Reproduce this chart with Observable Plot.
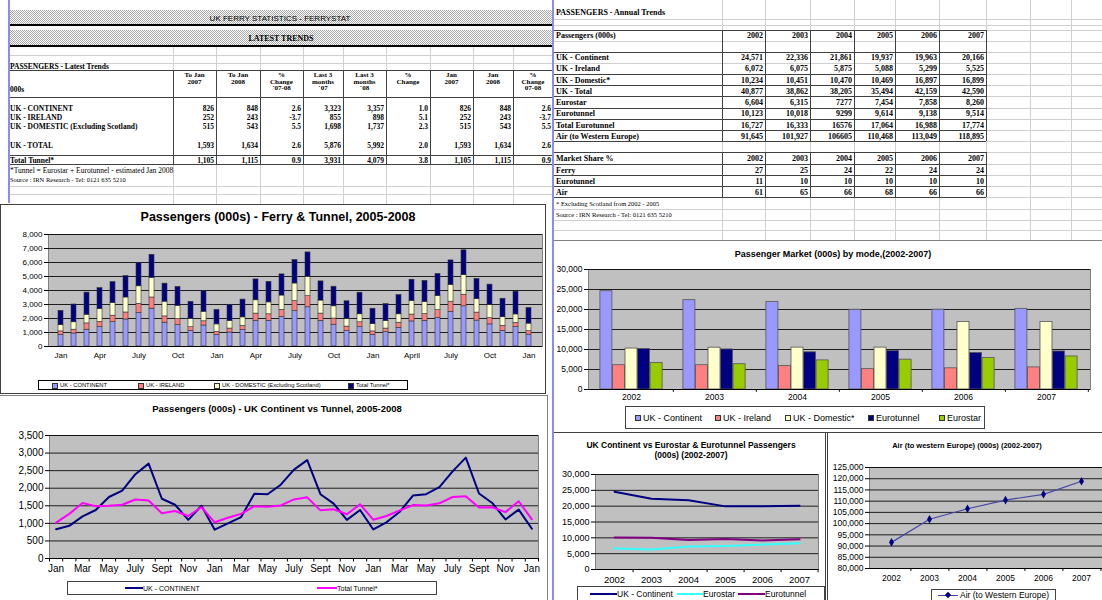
<!DOCTYPE html>
<html><head><meta charset="utf-8">
<script src="https://cdn.jsdelivr.net/npm/d3@7"></script>
<script src="https://cdn.jsdelivr.net/npm/@observablehq/plot@0.6"></script>
<style>
body{margin:0;background:#fff;}
#root{position:relative;width:1102px;height:600px;overflow:hidden;background:#fff;}
.t{position:absolute;white-space:nowrap;line-height:1;}
.ch svg{display:block;max-width:none !important;overflow:visible;}
</style></head><body><div id="root"></div>
<script>
// ---------------- DATA ----------------
// Monthly, Jan 2005 .. Jan 2008 (000s)
const ukContinentM = [830,930,1200,1380,1750,1930,2400,2700,1700,1530,1100,1500, 820,1000,1180,1840,1830,2100,2530,2800,1830,1560,1100,1380, 826,1030,1330,1790,1830,2030,2480,2870,1850,1580,1110,1390, 848];
const ukIrelandM   = [250,270,450,380,450,500,650,800,450,430,280,300, 230,280,290,510,470,520,720,800,520,440,320,350, 252,250,370,490,490,570,720,830,570,450,370,300, 243];
const ukDomesticM  = [440,530,620,920,900,1070,1250,1400,1050,940,600,680, 530,540,610,950,850,1020,1250,1380,930,870,550,570, 515,540,600,970,860,1010,1200,1400,960,930,610,600, 543];
const totalTunnelM = [1020,1270,1580,1490,1500,1530,1680,1650,1290,1350,1210,1460, 1030,1160,1270,1490,1470,1510,1680,1740,1370,1400,1260,1540, 1105,1210,1370,1520,1510,1570,1750,1770,1450,1460,1320,1630, 1115];
const barTickLabels  = ["Jan","Apr","July","Oct","Jan","Apr","July","Oct","Jan","April","July","Oct","Jan"];
const lineTickLabels = ["Jan","Mar","May","July","Sept","Nov","Jan","Mar","May","July","Sept","Nov","Jan","Mar","May","July","Sept","Nov","Jan"];

// Latest trends table
const latestHeaders = [["To Jan","2007"],["To Jan","2008"],["%","Change","`07-08"],["Last 3","months","`07"],["Last 3","months","`08"],["%","Change"],["Jan","2007"],["Jan","2008"],["%","Change","07-08"]];
const latestRowLabels = ["UK - CONTINENT","UK - IRELAND","UK - DOMESTIC (Excluding Scotland)","UK - TOTAL","Total Tunnel*"];
const latestRows = [
  ["826","848","2.6","3,323","3,357","1.0","826","848","2.6"],
  ["252","243","-3.7","855","898","5.1","252","243","-3.7"],
  ["515","543","5.5","1,698","1,737","2.3","515","543","5.5"],
  ["1,593","1,634","2.6","5,876","5,992","2.0","1,593","1,634","2.6"],
  ["1,105","1,115","0.9","3,931","4,079","3.8","1,105","1,115","0.9"]
];

// Annual trends (000s)
const years = [2002,2003,2004,2005,2006,2007];
const ukContinentA = [24571,22336,21861,19937,19963,20166];
const ukIrelandA   = [6072,6075,5875,5088,5299,5525];
const ukDomesticA  = [10234,10451,10470,10469,16897,16899];
const ukTotalA     = [40877,38862,38205,35494,42159,42590];
const eurostarA    = [6604,6315,7277,7454,7858,8260];
const eurotunnelA  = [10123,10018,9299,9614,9138,9514];
const totalEurotunnelA = [16727,16333,16576,17064,16988,17774];
const airA         = [91645,101927,106605,110468,113049,118895];
const shareFerry = [27,25,24,22,24,24];
const shareEurotunnel = [11,10,10,10,10,10];
const shareAir = [61,65,66,68,66,66];

// ---------------- HELPERS ----------------
const root = document.getElementById('root');
const SANS = '"Liberation Sans", Arial, sans-serif';
const SERIF = '"Liberation Serif", "Times New Roman", serif';
function el(x,y,w,h,css){const d=document.createElement('div');d.style.position='absolute';d.style.left=x+'px';d.style.top=y+'px';d.style.width=w+'px';d.style.height=h+'px';Object.assign(d.style,css||{});root.appendChild(d);return d;}
function hl(x1,x2,y,c,w){return el(x1,y,x2-x1,w||1,{background:c});}
function vl(x,y1,y2,c,w){return el(x,y1,w||1,y2-y1,{background:c});}
function txt(s,x,y,o){o=o||{};const d=document.createElement('div');d.className='t';d.textContent=s;
  d.style.font=`${o.bold===false?'normal':'bold'} ${o.size||7.5}px ${o.family||SERIF}`;
  d.style.left=x+'px';d.style.top=y+'px';
  const tx=o.align==='right'?'-100%':o.align==='center'?'-50%':'0';
  d.style.transform=`translate(${tx},-50%)`; if(o.color)d.style.color=o.color; root.appendChild(d);return d;}
const fmt = d3.format(",");
const GRID='#d0d0d0', DARK='#404040';

// ---------------- LEFT TABLE ----------------
const lc=[8,173,216,260,303,343,386,430,473,513,553];
hl(8,552,55,GRID);hl(8,552,63,GRID);hl(8,552,186,GRID);hl(8,552,194,GRID);
lc.slice(1,-1).forEach(x=>vl(x,46,204,GRID));
const dither={background:'repeating-conic-gradient(#a8a8a8 0 25%, #ffffff 0 50%) 0 0/2px 2px'};
el(9,10,543,14,dither); hl(9,552,24,'#000',1.5);
el(9,30,543,15,dither); hl(9,552,45,'#000',2);
txt("UK FERRY STATISTICS - FERRYSTAT",280,17.5,{align:'center',bold:false,family:SANS,size:8});
txt("LATEST TRENDS",281,38,{align:'center',size:8});
[70,97,155,164].forEach(y=>hl(9,552,y,DARK));
lc.slice(1,-1).forEach(x=>vl(x,70,165,DARK));
txt("PASSENGERS - Latest Trends",10,66,{});
latestHeaders.forEach((h,j)=>{const cx=(lc[j+1]+lc[j+2])/2; h.forEach((s,k)=>txt(s,cx,75+k*6.6,{align:'center',size:7}));});
txt("000s",10,89,{});
const rowY=[107.5,116.5,125.5,144.5,159.5];
latestRowLabels.forEach((s,i)=>{txt(s,10,rowY[i],{}); latestRows[i].forEach((v,j)=>txt(v,lc[j+2]-2,rowY[i],{align:'right'}));});
txt("*Tunnel = Eurostar + Eurotunnel  - estimated Jan 2008",10,169.5,{bold:false,size:7.5});
txt("Source : IRN Research - Tel: 0121 635 5210",10,178.5,{bold:false,size:6.5});
vl(8,0,203,'#8c8cf0',2);

// ---------------- RIGHT TABLE ----------------
const rc=[553,722,765,810,854,895,939,986];
const rBounds=[19,25,29.5,41,51.5,62.5,73.5,85,96,107.5,118.5,130,141,152,163.5,175,186,197,208.5,219.5,230];
rBounds.forEach(y=>hl(553,1102,y,GRID));
[722,765,810,854,895,939,986,1030,1071].forEach(x=>vl(x,0,240,GRID));
[29.5,51.5,73.5,85,96,107.5,118.5,130,141,152,163.5,175,186,197].forEach(y=>hl(553,986,y,DARK));
rc.slice(1).forEach(x=>{vl(x,29.5,141,DARK);vl(x,152,197,DARK);});
txt("PASSENGERS - Annual Trends",556,12,{size:8});
txt("Passengers (000s)",556,35,{size:8});
years.forEach((y,j)=>{txt(String(y),rc[j+2]-2,35,{align:'right',size:8}); txt(String(y),rc[j+2]-2,158,{align:'right',size:8});});
const annualRows=[["UK - Continent",ukContinentA,57],["UK - Ireland",ukIrelandA,68],["UK - Domestic*",ukDomesticA,79.5],["UK - Total",ukTotalA,90.5],["Eurostar",eurostarA,101.5],["Eurotunnel",eurotunnelA,113],["Total Eurotunnel",totalEurotunnelA,124.5],["Air (to Western Europe)",airA,136]];
annualRows.forEach(([lab,vals,y],i)=>{txt(lab,556,y,{size:8}); vals.forEach((v,j)=>txt((i>=4&&j===2)?String(v):fmt(v),rc[j+2]-2,y,{align:'right',size:8}));});
txt("Market Share %",556,158,{size:8});
[["Ferry",shareFerry,169.5],["Eurotunnel",shareEurotunnel,180.5],["Air",shareAir,191.5]].forEach(([lab,vals,y])=>{txt(lab,556,y,{size:8}); vals.forEach((v,j)=>txt(String(v),rc[j+2]-2,y,{align:'right',size:8}));});
txt("* Excluding Scotland from 2002 - 2005",556,203,{bold:false,size:6.5});
txt("Source : IRN Research - Tel: 0121 635 5210",556,214,{bold:false,size:6.5});

// ---------------- CHART BOXES ----------------
el(0,204,546,190,{background:'#fff',border:'1px solid #404040',boxSizing:'border-box'});
el(0,395,548,210,{background:'#fff',borderRight:'1px solid #808080',borderTop:'1px solid #808080',boxSizing:'border-box'});
el(553,240,549,193,{background:'#fff',borderTop:'1px solid #808080',borderBottom:'1px solid #404040',boxSizing:'border-box'});
el(553,433,273,170,{background:'#fff',borderRight:'1px solid #404040',boxSizing:'border-box'});
el(827,433,275,170,{background:'#fff',borderLeft:'1px solid #404040',boxSizing:'border-box'});
vl(552,0,600,'#8c8cf0',2);

function place(svg,x,y,w,h){const d=document.createElement('div');d.className='ch';d.style.position='absolute';d.style.left=x+'px';d.style.top=y+'px';d.style.width=w+'px';d.style.height=h+'px';d.appendChild(svg);root.appendChild(d);}
const baseStyle=(fs)=>({background:'transparent',fontFamily:SANS,fontSize:fs+'px',color:'#000',overflow:'visible'});
const PLOTBG={fill:'#c0c0c0',stroke:'#808080'};

// ---------------- CHART 1: stacked bars ----------------
const stackSeries=["UK - CONTINENT","UK - IRELAND","UK - DOMESTIC (Excluding Scotland)","Total Tunnel*"];
const stackColors=["#9999ff","#ff8080","#ffffcc","#000080"];
const stackArrays=[ukContinentM,ukIrelandM,ukDomesticM,totalTunnelM];
const idx=d3.range(ukContinentM.length);
const stackData=[]; idx.forEach(i=>stackArrays.forEach((a,k)=>stackData.push({i,s:stackSeries[k],v:a[i]})));
const y1Ticks=d3.range(0,8001,1000);
const c1=Plot.plot({width:550,height:145,marginLeft:48,marginRight:8,marginTop:9,marginBottom:24,style:baseStyle(8),
  x:{type:'band',domain:idx,paddingInner:0.6,paddingOuter:0.3,label:null},
  y:{domain:[0,8000],label:null},
  color:{domain:stackSeries,range:stackColors},
  marks:[Plot.frame(PLOTBG),
    Plot.gridY(y1Ticks,{stroke:'#000',strokeOpacity:0.85}),
    Plot.barY(stackData,{x:'i',y:'v',fill:'s',stroke:'#333',strokeWidth:0.6}),
    Plot.axisY({ticks:y1Ticks,tickFormat:fmt,tickSize:4,tickPadding:2,fontSize:8}),
    Plot.axisX({ticks:idx.filter(i=>i%3===0),tickFormat:i=>barTickLabels[i/3],tickSize:0,tickPadding:6,fontSize:8}),
    Plot.ruleY([0],{stroke:'#000'})]});
place(c1,0,225,550,145);
txt("Passengers (000s) - Ferry & Tunnel, 2005-2008",278,217,{family:SANS,size:12.5,align:'center'});
el(38,380,370,10,{border:'1px solid #000',boxSizing:'border-box',background:'#fff'});
[[56,60],[142,146],[218,222],[352,356]].forEach(([sx,tx],k)=>{el(sx-4,382.5,4,4,{background:stackColors[k],border:'0.5px solid #333'});txt(stackSeries[k],tx,385,{family:SANS,size:5.8,bold:false});});

// ---------------- CHART 2: lines ----------------
const y2Ticks=d3.range(0,3501,500);
const c2=Plot.plot({width:550,height:155,marginLeft:49,marginRight:12,marginTop:10,marginBottom:22,style:baseStyle(10),
  x:{domain:[-0.5,idx.length-0.5],label:null},
  y:{domain:[0,3500],label:null},
  marks:[Plot.frame(PLOTBG),
    Plot.gridY(y2Ticks,{stroke:'#000',strokeOpacity:0.85}),
    Plot.ruleX(d3.range(idx.length+1),{x:i=>i-0.5,y1:0,y2:-100,stroke:'#000'}),
    Plot.line(ukContinentM,{x:(d,i)=>i,y:d=>d,stroke:'#000080',strokeWidth:2}),
    Plot.line(totalTunnelM,{x:(d,i)=>i,y:d=>d,stroke:'#ff00ff',strokeWidth:2}),
    Plot.axisY({ticks:y2Ticks,tickFormat:fmt,tickSize:4,tickPadding:2,fontSize:10}),
    Plot.axisX({ticks:idx.filter(i=>i%2===0),tickFormat:i=>lineTickLabels[i/2],tickSize:0,tickPadding:6,fontSize:10}),
    Plot.ruleY([0],{stroke:'#000'})]});
place(c2,0,425,550,155);
txt("Passengers (000s) - UK Continent vs Tunnel, 2005-2008",277,408,{family:SANS,size:9.5,align:'center'});
el(67,581,370,14,{border:'1px solid #444',boxSizing:'border-box',background:'#fff'});
hl(125,143,587,'#000080',2); txt("UK - CONTINENT",143,588,{family:SANS,size:7,bold:false});
hl(317,337,587,'#ff00ff',2); txt("Total Tunnel*",337,588,{family:SANS,size:7,bold:false});

// ---------------- CHART 3: grouped bars ----------------
const groupSeries=[["UK - Continent",ukContinentA,"#9999ff"],["UK - Ireland",ukIrelandA,"#ff8080"],["UK - Domestic*",ukDomesticA,"#ffffcc"],["Eurotunnel",eurotunnelA,"#000080"],["Eurostar",eurostarA,"#99cc00"]];
const c3W=562,c3ML=48,c3MR=12; const step3=(c3W-c3ML-c3MR)/years.length; const bw3=step3*0.15;
const y3Ticks=d3.range(0,30001,5000);
const c3=Plot.plot({width:c3W,height:150,marginLeft:c3ML,marginRight:c3MR,marginTop:9,marginBottom:21,style:baseStyle(8.5),
  x:{type:'band',domain:years,paddingInner:0.85,paddingOuter:0.425,label:null},
  y:{domain:[0,30000],label:null},
  marks:[Plot.frame(PLOTBG),
    Plot.gridY(y3Ticks,{stroke:'#000',strokeOpacity:0.85}),
    ...groupSeries.map(([n,vals,c],k)=>Plot.barY(years.map((y,j)=>({year:y,v:vals[j]})),{x:'year',y:'v',fill:c,stroke:'#555',strokeWidth:0.8,dx:(k-2)*bw3})),
    Plot.ruleX(years,{x:d=>d,y1:0,y2:-700,dx:step3/2,stroke:'#000'}),
    Plot.axisY({ticks:y3Ticks,tickFormat:fmt,tickSize:4,tickPadding:2,fontSize:8.5}),
    Plot.axisX({tickFormat:String,tickSize:0,tickPadding:4,fontSize:8.5}),
    Plot.ruleY([0],{stroke:'#000'})]});
place(c3,540,260,c3W,150);
txt("Passenger Market (000s) by mode,(2002-2007)",833,254,{family:SANS,size:9,align:'center'});
el(625,406,360,23,{border:'1px solid #444',boxSizing:'border-box',background:'#fff'});
[638,718,788,871,942].forEach((sx,k)=>{el(sx-3,414.5,6,6,{background:groupSeries[k][2],border:'0.5px solid #333',boxSizing:'border-box'});txt(groupSeries[k][0],sx+5,417.5,{family:SANS,size:9,bold:false});});

// ---------------- CHART 4: annual lines ----------------
const y4Ticks=d3.range(0,30001,5000);
const c4W=275,c4ML=45,c4MR=7; const step4=(c4W-c4ML-c4MR)/years.length;
const lines4=[["UK - Continent",ukContinentA,"#000080"],["Eurostar",eurostarA,"#33ffff"],["Eurotunnel",eurotunnelA,"#800080"]];
const c4=Plot.plot({width:c4W,height:125,marginLeft:c4ML,marginRight:c4MR,marginTop:9,marginBottom:21,style:baseStyle(9),
  x:{type:'point',domain:years,padding:0.5,label:null},
  y:{domain:[0,30000],label:null},
  marks:[Plot.frame(PLOTBG),
    Plot.gridY(y4Ticks,{stroke:'#000',strokeOpacity:0.85}),
    ...lines4.map(([n,vals,c])=>Plot.line(vals,{x:(d,i)=>years[i],y:d=>d,stroke:c,strokeWidth:2})),
    Plot.ruleX(years,{x:d=>d,y1:0,y2:-1000,dx:step4/2,stroke:'#000'}),
    Plot.axisY({ticks:y4Ticks,tickFormat:fmt,tickSize:4,tickPadding:2,fontSize:9}),
    Plot.axisX({tickFormat:String,tickSize:0,tickPadding:7,fontSize:9.5}),
    Plot.ruleY([0],{stroke:'#000'})]});
place(c4,550,465,c4W,125);
txt("UK Continent vs Eurostar & Eurotunnel Passengers",691,445,{family:SANS,size:8.5,align:'center'});
txt("(000s) (2002-2007)",691,455,{family:SANS,size:8.5,align:'center'});
el(577,586,248,16,{border:'1px solid #444',boxSizing:'border-box',background:'#fff'});
[[590,617],[677,703],[738,765]].forEach(([a,b],k)=>{hl(a,b,592.5,lines4[k][2],2);txt(lines4[k][0],b,593.5,{family:SANS,size:8.5,bold:false});});

// ---------------- CHART 5: air ----------------
const y5Ticks=d3.range(80000,125001,5000);
const c5W=276,c5ML=43,c5MR=0; const step5=(c5W-c5ML-c5MR)/years.length;
const c5=Plot.plot({width:c5W,height:130,marginLeft:c5ML,marginRight:c5MR,marginTop:9,marginBottom:20,style:baseStyle(8.5),
  x:{type:'point',domain:years,padding:0.5,label:null},
  y:{domain:[80000,125000],label:null},
  marks:[Plot.frame(PLOTBG),
    Plot.gridY(y5Ticks,{stroke:'#000',strokeOpacity:0.85}),
    Plot.line(airA,{x:(d,i)=>years[i],y:d=>d,stroke:'#4646a8',strokeWidth:1.2}),
    Plot.dot(airA,{x:(d,i)=>years[i],y:d=>d,symbol:'diamond',r:2.6,fill:'#000080',stroke:'none'}),
    Plot.ruleX(years,{x:d=>d,y1:80000,y2:78700,dx:step5/2,stroke:'#000'}),
    Plot.axisY({ticks:y5Ticks,tickFormat:fmt,tickSize:4,tickPadding:2,fontSize:8.5}),
    Plot.axisX({tickFormat:String,tickSize:0,tickPadding:6,fontSize:8.5}),
    Plot.ruleY([80000],{stroke:'#000'})]});
place(c5,826,458,c5W,130);
txt("Air (to western Europe) (000s) (2002-2007)",967,445,{family:SANS,size:7.5,align:'center'});
el(931,589,125,14,{border:'1px solid #444',boxSizing:'border-box',background:'#fff'});
hl(938,958,594.5,'#4646a8',1.2); el(945,591.5,6,6,{background:'#000080',transform:'rotate(45deg) scale(0.75)'});
txt("Air (to Western Europe)",960,595,{family:SANS,size:8.5,bold:false});
</script></body></html>
